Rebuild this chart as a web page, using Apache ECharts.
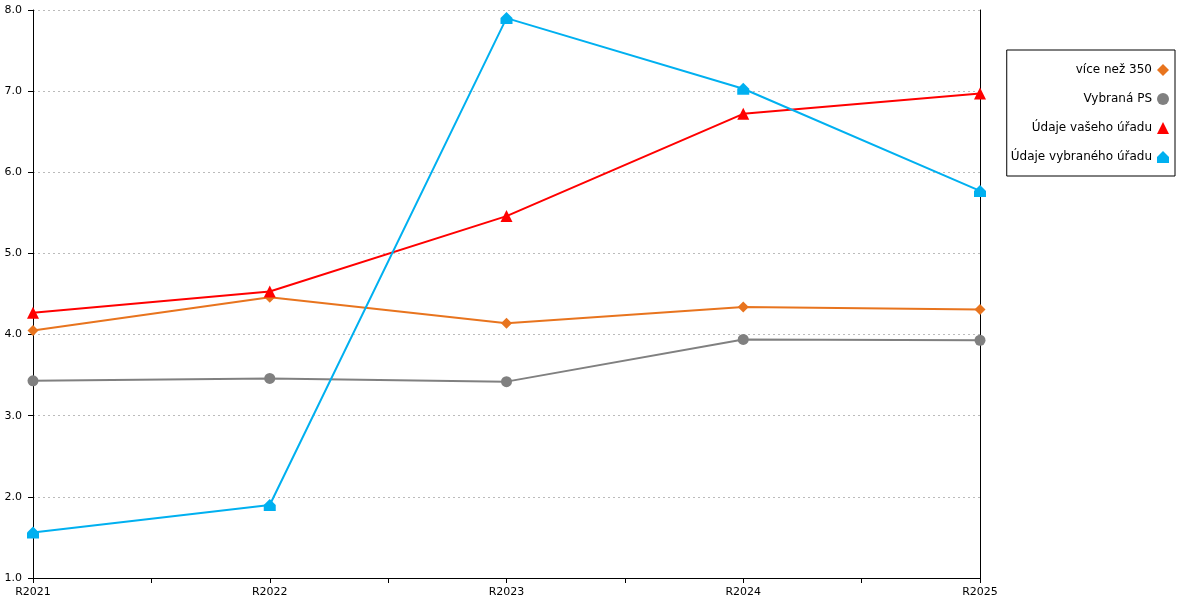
<!DOCTYPE html>
<html>
<head>
<meta charset="utf-8">
<script src="https://cdn.jsdelivr.net/npm/echarts@6/dist/echarts.min.js"></script>
<style>
  html, body { margin: 0; padding: 0; background: #fff; }
  #main { width: 1200px; height: 600px; }
</style>
</head>
<body>
<div id="main"></div>
<script>
var categories = ["R2021", "R2022", "R2023", "R2024", "R2025"];
var seriesNames = ["více než 350", "Vybraná PS", "Údaje vašeho úřadu", "Údaje vybraného úřadu"];
var vice350 = [4.05, 4.46, 4.14, 4.34, 4.31];
var vybranaPS = [3.43, 3.46, 3.42, 3.94, 3.93];
var vasUrad = [4.27, 4.53, 5.46, 6.72, 6.97];
var vybranyUrad = [1.56, 1.90, 7.90, 7.03, 5.77];

var font = "DejaVu Sans";
var house = "path://M0,-1 L1,0 L1,1 L-1,1 L-1,0 Z";

var myChart = echarts.init(document.getElementById("main"));

var option = {
  animation: false,
  textStyle: { fontFamily: font },
  grid: { left: 33, right: 220, top: 10, bottom: 22 },
  legend: {
    orient: "vertical",
    right: 25,
    top: 50,
    align: "right",
    borderColor: "#000",
    borderWidth: 1,
    padding: [14, 6, 13, 4],
    itemGap: 17,
    itemWidth: 12,
    itemHeight: 12,
    textStyle: { fontFamily: font, fontSize: 12, color: "#000" },
    data: [
      { name: seriesNames[0], icon: "diamond" },
      { name: seriesNames[1], icon: "circle" },
      { name: seriesNames[2], icon: "triangle" },
      { name: seriesNames[3], icon: house }
    ]
  },
  xAxis: [
    {
      type: "category",
      data: categories,
      boundaryGap: false,
      axisLine: { lineStyle: { color: "#000", width: 1 } },
      axisTick: { show: false },
      axisLabel: { color: "#000", fontSize: 11, margin: 9, fontFamily: font },
      splitLine: { show: false }
    },
    {
      // ticks at every category and halfway between
      type: "value",
      position: "bottom",
      min: 0,
      max: 4,
      interval: 0.5,
      axisLine: { show: false },
      axisLabel: { show: false },
      splitLine: { show: false },
      axisTick: { show: true, length: 5, lineStyle: { color: "#000" } }
    }
  ],
  yAxis: [
    {
      type: "value",
      min: 1,
      max: 8,
      interval: 1,
      axisLine: { show: true, lineStyle: { color: "#000" } },
      axisTick: { show: true, length: 5, lineStyle: { color: "#000" } },
      axisLabel: {
        color: "#000",
        fontSize: 11,
        margin: 11,
        fontFamily: font,
        formatter: function (v) { return v.toFixed(1); }
      },
      splitLine: { show: true, lineStyle: { color: "#bbbbbb", type: [2, 3] } }
    },
    {
      type: "value",
      position: "right",
      min: 1,
      max: 8,
      interval: 1,
      axisLine: { show: true, lineStyle: { color: "#000" } },
      axisTick: { show: false },
      axisLabel: { show: false },
      splitLine: { show: false }
    }
  ],
  series: [
    {
      name: seriesNames[0],
      type: "line",
      data: vice350,
      symbol: "diamond",
      symbolSize: 11,
      itemStyle: { color: "#E8741E" },
      lineStyle: { width: 2 }
    },
    {
      name: seriesNames[1],
      type: "line",
      data: vybranaPS,
      symbol: "circle",
      symbolSize: 11,
      itemStyle: { color: "#808080" },
      lineStyle: { width: 2 }
    },
    {
      name: seriesNames[2],
      type: "line",
      data: vasUrad,
      symbol: "triangle",
      symbolSize: 12,
      itemStyle: { color: "#FF0000" },
      lineStyle: { width: 2 }
    },
    {
      name: seriesNames[3],
      type: "line",
      data: vybranyUrad,
      symbol: house,
      symbolSize: 12,
      itemStyle: { color: "#00B0F0" },
      lineStyle: { width: 2 }
    }
  ]
};

myChart.setOption(option);
</script>
</body>
</html>
